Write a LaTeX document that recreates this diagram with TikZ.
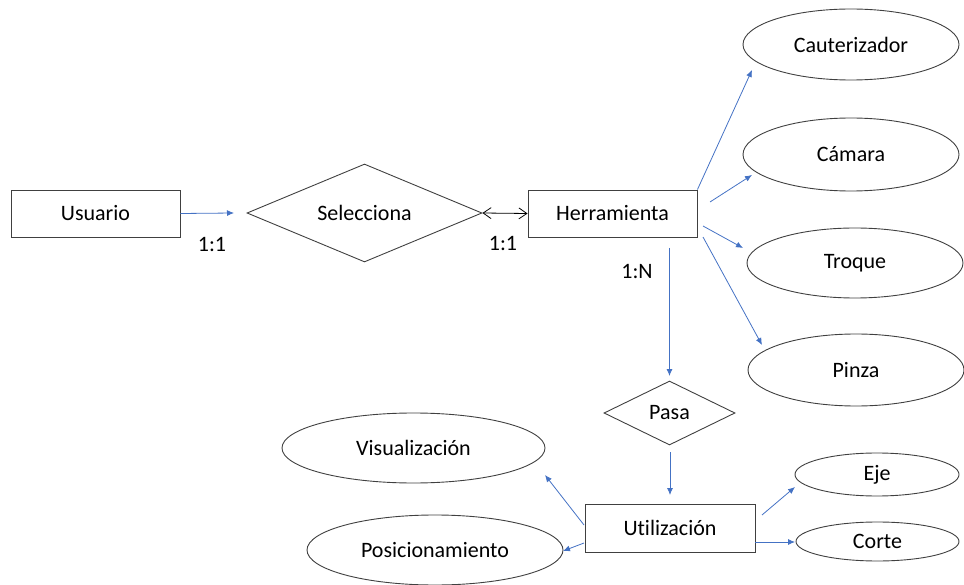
\documentclass[tikz,border=0pt]{standalone}
\usepackage{fontspec}
\setmainfont{Carlito}[Ligatures=NoCommon]
\usetikzlibrary{shapes.geometric,arrows.meta}
\definecolor{linkblue}{HTML}{4472C4}
\definecolor{outline}{HTML}{404040}
\begin{document}
\begin{tikzpicture}[x=1pt,y=-1pt,
  every node/.style={font=\fontsize{22}{26}\selectfont, text=black},
  entity/.style={draw=outline, line width=0.9pt, rectangle, inner sep=0pt},
  relation/.style={draw=outline, line width=0.9pt, diamond, inner sep=0pt},
  attrib/.style={draw=outline, line width=0.9pt, ellipse, inner sep=0pt},
  link/.style={draw=linkblue, line width=0.8pt, -{Latex[length=7pt,width=6pt]}},
  pair/.style={draw=black, line width=0.8pt,
    {Straight Barb[length=8pt,width=11pt]}-{Straight Barb[length=8pt,width=11pt]}},
  card/.style={inner sep=0pt}
]
\useasboundingbox (0,0) rectangle (964,585);

% entities and relations
\node[entity, minimum width=169pt, minimum height=47pt] (usr) at (95.5,213.5) {Usuario};
\node[relation, minimum width=235pt, minimum height=98pt, aspect=2.4] (sel) at (364.5,213) {Selecciona};
\node[entity, minimum width=169pt, minimum height=47pt] (herr) at (612.5,213.5) {Herramienta};
\node[relation, minimum width=131pt, minimum height=64pt, aspect=2] (pasa) at (669.5,413) {Pasa};
\node[entity, minimum width=170pt, minimum height=48pt] (util) at (670,528) {Utilización};

% attributes
\node[attrib, minimum width=216pt, minimum height=71pt] (caut) at (851,44.5) {Cauterizador};
\node[attrib, minimum width=216pt, minimum height=73pt] (cam) at (851,154.5) {Cámara};
\node[attrib, minimum width=216pt, minimum height=70pt] (tro) at (855,263) {Troque};
\node[attrib, minimum width=216pt, minimum height=72pt] (pin) at (856,370) {Pinza};
\node[attrib, minimum width=164pt, minimum height=43pt] (eje) at (877,474.5) {Eje};
\node[attrib, minimum width=163pt, minimum height=39pt] (cor) at (877.5,541.5) {Corte};
\node[attrib, minimum width=263pt, minimum height=70pt] (vis) at (413.5,448) {Visualización};
\node[attrib, minimum width=256pt, minimum height=70pt] (pos) at (435,550) {Posicionamiento};

% cardinalities
\node[card] (c1) at (212,245) {1:1};
\node[card] (c2) at (503,244) {1:1};
\node[card] (c3) at (637,272) {1:N};

% connector end points
\coordinate (selIn) at (234,213);
\coordinate (cautIn) at (752,70);
\coordinate (camOut) at (710,202);
\coordinate (camIn) at (752,175);
\coordinate (troOut) at (703,226);
\coordinate (troIn) at (743,248);
\coordinate (pinOut) at (703,237);
\coordinate (pinIn) at (762,345);
\coordinate (pasaOut) at (669.5,248);
\coordinate (pasaIn) at (669.5,376);
\coordinate (utilOut) at (670,452);
\coordinate (utilIn) at (670,495);
\coordinate (ejeOut) at (762,515);
\coordinate (ejeIn) at (795,487);
\coordinate (corOut) at (755,542);
\coordinate (corIn) at (795,542);
\coordinate (visOut) at (584,525);
\coordinate (visIn) at (545,475);
\coordinate (posOut) at (584,543);
\coordinate (posIn) at (563,551);

% connectors
\draw[link] (usr.east) -- (selIn);
\draw[pair] (sel.east) -- (herr.west);
\draw[link] (herr.north east) -- (cautIn);
\draw[link] (camOut) -- (camIn);
\draw[link] (troOut) -- (troIn);
\draw[link] (pinOut) -- (pinIn);
\draw[link] (pasaOut) -- (pasaIn);
\draw[link] (utilOut) -- (utilIn);
\draw[link] (ejeOut) -- (ejeIn);
\draw[link] (corOut) -- (corIn);
\draw[link] (visOut) -- (visIn);
\draw[link] (posOut) -- (posIn);
\end{tikzpicture}
\end{document}
